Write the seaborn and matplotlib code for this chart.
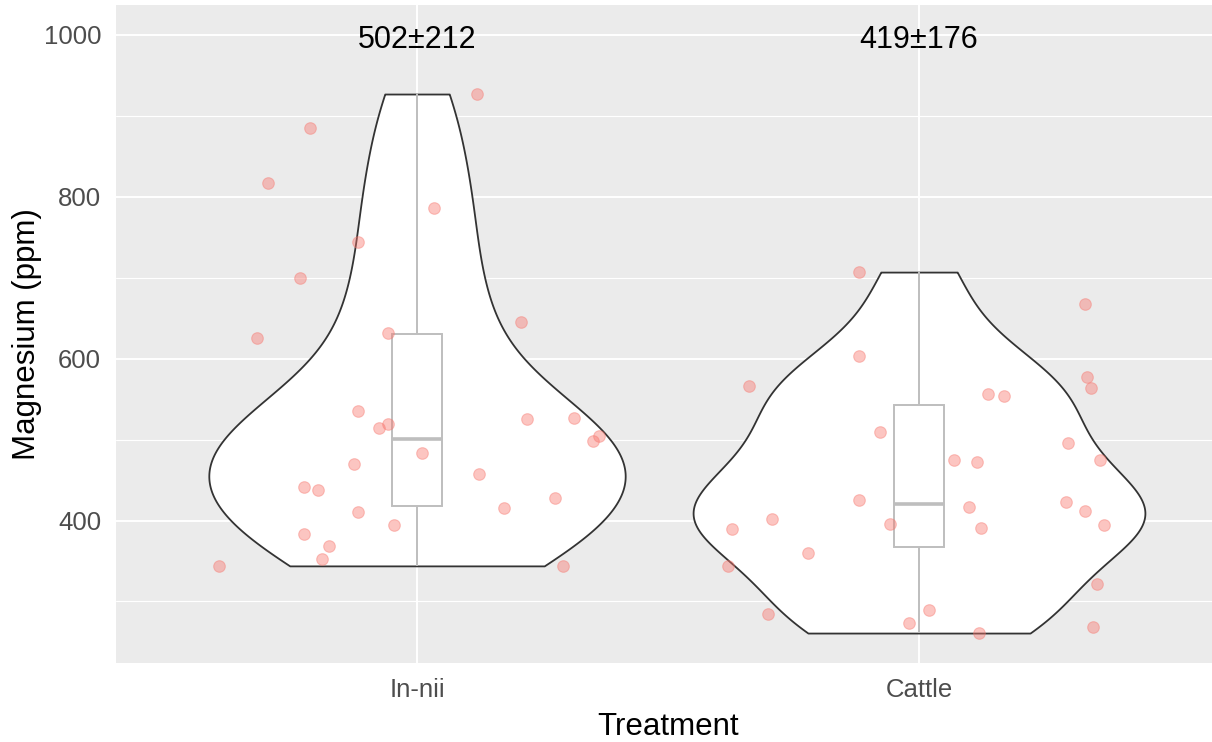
import matplotlib
matplotlib.use("Agg")
import matplotlib.pyplot as plt
from matplotlib.ticker import FixedLocator
import numpy as np
import pandas as pd
import seaborn as sns

# Данные
treatments = ["In-nii", "Cattle"]
summary_labels = ["502\u00b1212", "419\u00b1176"]

innii_mg = [927, 885, 817, 786, 744, 700, 645, 625, 632, 535, 519, 514, 525, 527, 504,
            498, 483, 470, 457, 441, 438, 428, 415, 410, 394, 384, 368, 352, 344, 344]
innii_jitter = [0.119, -0.213, -0.297, 0.034, -0.117, -0.234, 0.207, -0.319, -0.058, -0.117,
                -0.058, -0.076, 0.220, 0.313, 0.363, 0.350, 0.009, -0.125, 0.123, -0.226,
                -0.197, 0.274, 0.173, -0.117, -0.045, -0.226, -0.175, -0.189, -0.394, 0.291]

cattle_mg = [707, 668, 603, 566, 577, 564, 556, 554, 509, 496, 475, 472, 475, 425, 423,
             417, 402, 412, 389, 396, 391, 394, 360, 344, 321, 284, 289, 274, 268, 261]
cattle_jitter = [-0.120, 0.330, -0.120, -0.339, 0.334, 0.343, 0.137, 0.170, -0.078, 0.296,
                 0.069, 0.116, 0.360, -0.120, 0.292, 0.099, -0.292, 0.330, -0.373, -0.057,
                 0.124, 0.368, -0.221, -0.381, 0.355, -0.301, 0.019, -0.019, 0.347, 0.120]

df = pd.DataFrame({
    "Treatment": [treatments[0]] * len(innii_mg) + [treatments[1]] * len(cattle_mg),
    "Mg": innii_mg + cattle_mg,
    "jitter": innii_jitter + cattle_jitter,
})
df["xpos"] = df["Treatment"].map({t: i for i, t in enumerate(treatments)}) + df["jitter"]


def nrd0_factor(kde):
    # ширина окна как в R (bw.nrd0), выраженная через sd выборки
    d = np.asarray(kde.dataset).ravel()
    sd = d.std(ddof=1)
    iqr = np.subtract(*np.percentile(d, [75, 25]))
    bw = 0.9 * min(sd, iqr / 1.34) * len(d) ** -0.2
    return bw / sd


sns.set_theme(style="darkgrid", rc={"axes.facecolor": "#EBEBEB", "grid.color": "white"})
plt.rcParams["font.family"] = ["Liberation Sans", "DejaVu Sans"]

fig = plt.figure(figsize=(12.12, 7.42), dpi=100)
ax = fig.add_axes([115.8 / 1212, 1 - 663 / 742, 1104.4 / 1212, 658 / 742])

sns.violinplot(data=df, x="Treatment", y="Mg", order=treatments, cut=0, inner=None,
               density_norm="area", width=0.9, gridsize=512, bw_method=nrd0_factor,
               color="white", saturation=1, linecolor="#333333", linewidth=1.3, ax=ax)

sns.boxplot(data=df, x="Treatment", y="Mg", order=treatments, width=0.1, color="white",
            saturation=1, linecolor="#BEBEBE", linewidth=1.4, showcaps=False,
            showfliers=False, medianprops={"linewidth": 2.6}, ax=ax)

sns.scatterplot(data=df, x="xpos", y="Mg", color="#F8766D", alpha=0.42, s=70,
                linewidth=0.8, edgecolor="#F8766D", zorder=5, ax=ax)

# подписи медиана ± IQR над каждой группой
for i, lab in enumerate(summary_labels):
    ax.annotate(lab, (i, 1000), xytext=(0, -3.5), textcoords="offset points",
                ha="center", va="center", fontsize=22, color="black")

ax.set_xlim(-0.6, 1.6)
ax.set_ylim(224, 1037)
ax.set_xticks(range(len(treatments)))
ax.set_xticklabels(treatments)
ax.set_yticks([400, 600, 800, 1000])
ax.yaxis.set_minor_locator(FixedLocator([300, 500, 700, 900]))

ax.grid(which="major", color="white", linewidth=1.4)
ax.grid(which="minor", axis="y", color="white", linewidth=0.8)
ax.grid(which="minor", axis="x", visible=False)
ax.set_axisbelow(True)
for s in ax.spines.values():
    s.set_visible(False)

ax.tick_params(axis="both", which="major", length=5.5, width=1.1, color="#333333",
               labelsize=18.5, labelcolor="#4D4D4D", pad=5)
ax.tick_params(axis="both", which="minor", length=0)

ax.set_xlabel("Treatment", fontsize=22.5, color="black")
ax.set_ylabel("Magnesium (ppm)", fontsize=22.5, color="black")
ax.xaxis.set_label_coords(0.5, -0.074)
ax.yaxis.set_label_coords(-0.067, 0.5)

fig.savefig("out.png", dpi=100)
